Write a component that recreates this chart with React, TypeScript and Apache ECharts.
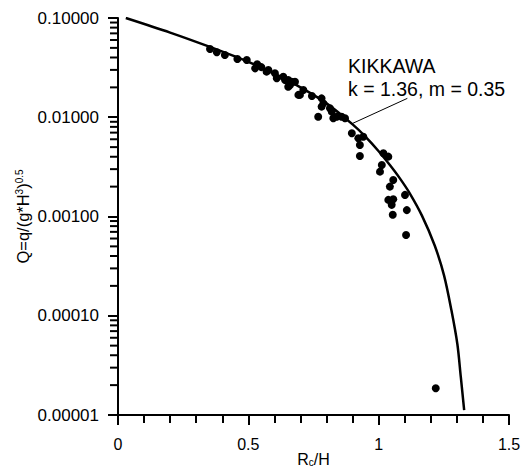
import * as echarts from "echarts";
import React, { useEffect, useRef } from "react";

// measured points, x = Rc/H, y = Q
const pointX = [
  0.353, 0.379, 0.41, 0.458, 0.494, 0.534, 0.526, 0.577, 0.602, 0.609, 0.634, 0.653, 0.66, 0.679,
  0.692, 0.711, 0.698, 0.781, 0.788, 0.813, 0.82, 0.768, 0.839, 0.871, 0.897, 0.922, 0.928, 0.941,
  0.928, 1.018, 1.037, 1.012, 1.005, 1.056, 1.043, 1.101, 1.037, 1.056, 1.05, 1.108, 1.054, 1.105,
  1.219, 0.57, 0.641, 0.666, 0.653, 0.781, 0.826, 0.858, 0.744, 0.55
];
const pointQ = [
  0.0488, 0.0451, 0.0424, 0.0386, 0.0377, 0.0342, 0.0311, 0.0299, 0.0277, 0.0247, 0.0256, 0.0237,
  0.0211, 0.0228, 0.0168, 0.0188, 0.0168, 0.0155, 0.0138, 0.0123, 0.0114, 0.0101, 0.0101, 0.00976,
  0.00689, 0.00614, 0.00525, 0.00637, 0.00407, 0.00434, 0.00401, 0.0033, 0.00283, 0.00233, 0.002,
  0.00165, 0.00147, 0.00149, 0.00131, 0.00116, 0.00104, 0.00065, 0.0000186, 0.0288, 0.0237, 0.0228,
  0.0203, 0.0128, 0.00976, 0.0101, 0.0164, 0.032
];

// Kikkawa curve
const curveX = [
  0.03, 0.2, 0.35, 0.5, 0.62, 0.7, 0.8, 0.9, 0.95, 1.0, 1.043, 1.08, 1.117, 1.166, 1.215, 1.251,
  1.279, 1.302, 1.315, 1.328
];
const curveQ = [
  0.1, 0.0713, 0.0514, 0.0361, 0.0259, 0.02, 0.0138, 0.00847, 0.00635, 0.00455, 0.0033, 0.00245,
  0.00175, 0.00102, 0.00051, 0.000254, 0.000114, 0.0000516, 0.0000243, 0.0000112
];

// minor ticks of the log axis (2..9 per decade)
const yMinorTicks = [];
[0.00001, 0.0001, 0.001, 0.01].forEach((d) => {
  for (let k = 2; k <= 9; k++) yMinorTicks.push(+(d * k).toPrecision(3));
});

const leaderFrom = [1.11, 0.0155];
const leaderTo = [0.897, 0.0086];

const FONT = "Liberation Sans, Arial, sans-serif";

const App = () => {
  const ref = useRef(null);

  useEffect(() => {
    const option = {
      animation: false,
      backgroundColor: "#fff",
      textStyle: { fontFamily: FONT, color: "#000" },
      grid: { left: 118, top: 18, right: 21, bottom: 56, outerBoundsMode: "none" },
      xAxis: {
        type: "value",
        min: 0,
        max: 1.5,
        interval: 0.5,
        name: "{a|R}{s|c}{a|/H}",
        nameLocation: "middle",
        nameGap: 36,
        nameMoveOverlap: false,
        nameTextStyle: {
          rich: {
            a: { fontSize: 16, lineHeight: 16, fontFamily: FONT, color: "#000" },
            s: { fontSize: 10, lineHeight: 10, fontFamily: FONT, color: "#000", verticalAlign: "bottom" }
          }
        },
        axisLine: { show: true, onZero: false, lineStyle: { color: "#000", width: 2 } },
        axisTick: { show: true, length: 10, lineStyle: { color: "#000", width: 2 } },
        minorTick: { show: true, splitNumber: 5, length: 8, lineStyle: { color: "#000", width: 2 } },
        splitLine: { show: false },
        minorSplitLine: { show: false },
        axisLabel: { show: true, fontSize: 16, color: "#000", fontFamily: FONT, margin: 21 }
      },
      yAxis: {
        type: "log",
        logBase: 10,
        min: 0.00001,
        max: 0.1,
        name: "{a|Q=q/(g*H}{s|3}{a|)}{s|0.5}",
        nameLocation: "middle",
        nameGap: 87,
        nameMoveOverlap: false,
        nameRotate: 90,
        nameTextStyle: {
          rich: {
            a: { fontSize: 16.5, fontFamily: FONT, color: "#000" },
            s: { fontSize: 10, fontFamily: FONT, color: "#000", verticalAlign: "top" }
          }
        },
        axisLine: { show: true, onZero: false, lineStyle: { color: "#000", width: 2 } },
        axisTick: { show: true, length: 10, lineStyle: { color: "#000", width: 2 } },
        splitLine: { show: false },
        axisLabel: {
          show: true,
          fontSize: 17,
          color: "#000",
          fontFamily: FONT,
          margin: 19,
          formatter: (v) => Number(v).toFixed(5)
        }
      },
      graphic: [
        {
          type: "text",
          left: 348,
          top: 54,
          style: {
            text: "KIKKAWA\nk = 1.36, m = 0.35",
            font: "19.5px " + FONT,
            lineHeight: 23,
            fill: "#000"
          }
        }
      ],
      series: [
        {
          // minor ticks of the y axis
          type: "custom",
          coordinateSystem: "cartesian2d",
          clip: false,
          data: yMinorTicks.map((v) => [0, v, 8]),
          renderItem: (params, api) => {
            const p = api.coord([api.value(0), api.value(1)]);
            return {
              type: "line",
              shape: { x1: p[0] - api.value(2), y1: p[1], x2: p[0], y2: p[1] },
              style: { stroke: "#000", lineWidth: 2 }
            };
          }
        },
        {
          type: "line",
          data: curveX.map((x, i) => [x, curveQ[i]]),
          smooth: 0.3,
          showSymbol: false,
          lineStyle: { color: "#000", width: 2.5 },
          markLine: {
            silent: true,
            symbol: "none",
            label: { show: false },
            lineStyle: { color: "#000", width: 1, type: "solid" },
            data: [[{ coord: leaderFrom }, { coord: leaderTo }]]
          }
        },
        {
          type: "scatter",
          data: pointX.map((x, i) => [x, pointQ[i]]),
          symbol: "circle",
          symbolSize: 8,
          itemStyle: { color: "#000", opacity: 1 }
        }
      ]
    };
    const chart = echarts.init(ref.current, null, { renderer: "svg" });
    chart.setOption(option);
    return () => {
      chart.dispose();
    };
  }, []);

  return (
    <div
      ref={ref}
      style={{ position: "absolute", left: 0, top: 0, width: 530, height: 471 }}
    ></div>
  );
};

export default App;
